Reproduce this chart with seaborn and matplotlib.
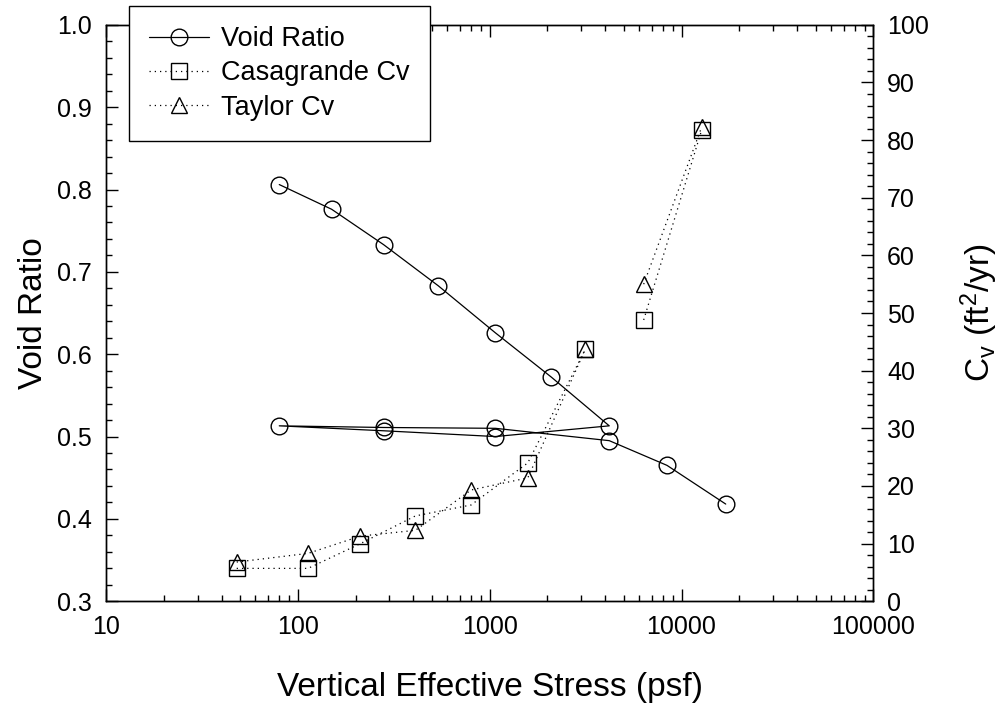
import numpy as np
import pandas as pd
import matplotlib
matplotlib.use("Agg")
import matplotlib.pyplot as plt
from matplotlib.lines import Line2D
from matplotlib.ticker import FixedLocator, MultipleLocator, FuncFormatter, LogLocator, NullFormatter
import seaborn as sns

# ---- data ----
stress_void = [80, 150, 280, 540, 1070, 2100, 4200,
               1070, 280, 80,
               280, 1070, 4200, 8400, 17000]
void_ratio = [0.806, 0.776, 0.733, 0.683, 0.626, 0.572, 0.513,
              0.500, 0.507, 0.513,
              0.511, 0.510, 0.495, 0.465, 0.418]

stress_cv = [48, 113, 212, 410, 800, 1580, 3150, 6350, 12750]
cv_segment = [0, 0, 0, 0, 0, 0, 0, 1, 1]
casagrande_cv = [5.7, 5.7, 10.0, 14.8, 16.7, 24.0, 43.7, 48.8, 81.8]
taylor_cv = [6.8, 8.3, 11.3, 12.3, 19.3, 21.4, 43.7, 55.0, 82.3]

x_ticks = [10, 100, 1000, 10000, 100000]
left_ticks = [0.3, 0.4, 0.5, 0.6, 0.7, 0.8, 0.9, 1.0]
right_ticks = list(range(0, 101, 10))

df_void = pd.DataFrame({"stress": stress_void, "e": void_ratio})
df_cv = pd.DataFrame({"stress": stress_cv, "seg": cv_segment,
                      "cas": casagrande_cv, "tay": taylor_cv})

# ---- style ----
sns.set_style("white")
plt.rcParams["font.family"] = ["Liberation Sans", "DejaVu Sans"]
plt.rcParams["mathtext.fontset"] = "custom"
plt.rcParams["mathtext.rm"] = "Liberation Sans"
plt.rcParams["mathtext.it"] = "Liberation Sans:italic"
plt.rcParams["axes.linewidth"] = 1.0
for k in ["text.color", "axes.labelcolor", "xtick.color", "ytick.color", "axes.edgecolor"]:
    plt.rcParams[k] = "black"

fig, ax = plt.subplots(figsize=(10.05, 7.09), dpi=100)
fig.subplots_adjust(left=0.1055, right=0.869, top=0.965, bottom=0.152)
ax2 = ax.twinx()

lw = 0.9
dots = (0, (1, 3.2))
sns.lineplot(data=df_void, x="stress", y="e", ax=ax, sort=False, estimator=None,
             color="black", linewidth=lw, marker="o", markersize=12,
             markerfacecolor="none", markeredgecolor="black", markeredgewidth=1.0,
             legend=False)

sns.lineplot(data=df_cv, x="stress", y="cas", units="seg", ax=ax2, sort=False,
             estimator=None, color="black", linewidth=lw, linestyle=dots,
             marker="s", markersize=11, markerfacecolor="none",
             markeredgecolor="black", markeredgewidth=1.0, legend=False)
sns.lineplot(data=df_cv, x="stress", y="tay", units="seg", ax=ax2, sort=False,
             estimator=None, color="black", linewidth=lw, linestyle=dots,
             marker="^", markersize=12, markerfacecolor="none",
             markeredgecolor="black", markeredgewidth=1.0, legend=False)

ax.set_xscale("log")
ax.set_xlim(10, 100000)
ax.set_ylim(0.3, 1.0)
ax2.set_ylim(0, 100)

fs_tick = 18
ax.xaxis.set_major_locator(FixedLocator(x_ticks))
ax.xaxis.set_minor_locator(LogLocator(base=10, subs=np.arange(2, 10)))
ax.xaxis.set_minor_formatter(NullFormatter())
ax.xaxis.set_major_formatter(FuncFormatter(lambda v, p: f"{int(round(v))}"))
ax.yaxis.set_major_locator(FixedLocator(left_ticks))
ax.yaxis.set_minor_locator(MultipleLocator(0.02))
ax.yaxis.set_major_formatter(FuncFormatter(lambda v, p: f"{v:.1f}"))
ax2.yaxis.set_major_locator(FixedLocator(right_ticks))
ax2.yaxis.set_minor_locator(MultipleLocator(2))

ax.tick_params(axis="x", which="both", direction="in", top=True, bottom=True,
               labelsize=fs_tick, pad=10, color="black", labelcolor="black")
ax.tick_params(axis="y", which="both", direction="in", left=True, right=False,
               labelsize=fs_tick, pad=10, color="black", labelcolor="black")
ax2.tick_params(axis="y", which="both", direction="in", right=True, left=False,
                labelsize=fs_tick, pad=10, color="black", labelcolor="black")
for a in (ax, ax2):
    a.tick_params(which="major", length=8.5, width=1.0)
    a.tick_params(which="minor", length=4.5, width=1.0)
    for s in a.spines.values():
        s.set_color("black")
        s.set_linewidth(1.0)

ax.set_xlabel("Vertical Effective Stress (psf)", fontsize=24, labelpad=24, color="black")
ax.set_ylabel("Void Ratio", fontsize=24, labelpad=6, color="black")
ax2.set_ylabel(r"C$_\mathregular{v}$ (ft$^\mathregular{2}$/yr)", fontsize=24,
               labelpad=21, color="black")

handles = [
    Line2D([], [], color="black", linewidth=lw, marker="o", markersize=12,
           markerfacecolor="none", markeredgecolor="black"),
    Line2D([], [], color="black", linewidth=lw, linestyle=dots, marker="s", markersize=11,
           markerfacecolor="none", markeredgecolor="black"),
    Line2D([], [], color="black", linewidth=lw, linestyle=dots, marker="^", markersize=12,
           markerfacecolor="none", markeredgecolor="black"),
]
labels = ["Void Ratio", "Casagrande Cv", "Taylor Cv"]
leg = ax2.legend(handles, labels, loc="upper left",
                 bbox_to_anchor=(129 / 1005, 1 - 6 / 709), bbox_transform=fig.transFigure,
                 fontsize=19.5, frameon=True, fancybox=False, framealpha=1,
                 edgecolor="black", handlelength=2.2, handletextpad=0.45,
                 labelspacing=0.3, borderpad=0.75, borderaxespad=0)
leg.get_frame().set_linewidth(1.0)
leg.set_zorder(10)

fig.savefig("out.png", dpi=100)
